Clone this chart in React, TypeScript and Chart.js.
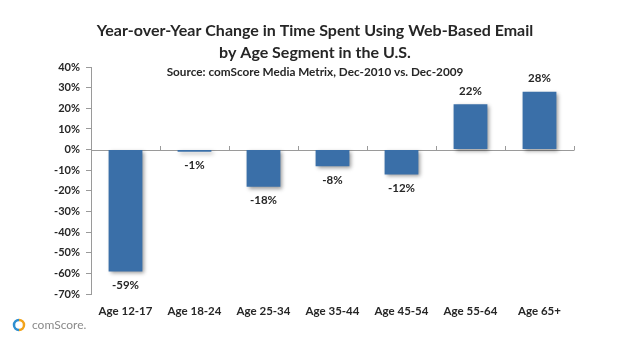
import React, { useEffect, useRef } from "react";
import { Chart, registerables } from "chart.js";

Chart.register(...registerables);

const categories = ["Age 12-17", "Age 18-24", "Age 25-34", "Age 35-44", "Age 45-54", "Age 55-64", "Age 65+"];
const changeValues = [-59, -1, -18, -8, -12, 22, 28];
const yMin = -70;
const yMax = 40;
const yStep = 10;
const titleLines = ["Year-over-Year Change in Time Spent Using Web-Based Email", "by Age Segment in the U.S."];
const subtitleText = "Source: comScore Media Metrix, Dec-2010 vs. Dec-2009";

const FONT = "Lato, 'Open Sans', 'DejaVu Sans', sans-serif";
const TEXT = "#262626";
const BAR = "#3A6FA8";

export default function App() {
  const ref = useRef<HTMLCanvasElement | null>(null);

  useEffect(() => {
    const canvas = ref.current;
    if (!canvas) return;

    const decor = {
      id: "decor",
      beforeDatasetsDraw(chart: any) {
        const ctx = chart.ctx;
        const ys = chart.scales.y;
        const y0 = ys.getPixelForValue(0);
        ctx.save();
        ctx.strokeStyle = "#9a9a9a";
        ctx.lineWidth = 1;
        ctx.beginPath();
        ctx.moveTo(chart.chartArea.left, Math.round(y0) + 0.5);
        ctx.lineTo(chart.chartArea.right, Math.round(y0) + 0.5);
        const n = categories.length;
        const w = (chart.chartArea.right - chart.chartArea.left) / n;
        for (let i = 1; i <= n; i++) {
          const x = Math.round(chart.chartArea.left + i * w) + 0.5;
          ctx.moveTo(x, Math.round(y0) + 0.5);
          ctx.lineTo(x, Math.round(y0) - 4);
        }
        ctx.stroke();
        ctx.restore();
        ctx.save();
        ctx.shadowColor = "rgba(0,0,0,0.4)";
        ctx.shadowBlur = 4;
        ctx.shadowOffsetX = 2;
        ctx.shadowOffsetY = 2;
      },
      afterDatasetsDraw(chart: any) {
        const ctx = chart.ctx;
        ctx.restore();
        const meta = chart.getDatasetMeta(0);
        ctx.save();
        ctx.fillStyle = TEXT;
        ctx.font = `bold 11.5px ${FONT}`;
        ctx.textAlign = "center";
        ctx.textBaseline = "middle";
        meta.data.forEach((el: any, i: number) => {
          const v = changeValues[i];
          const y = v < 0 ? el.y + 14 : el.y - 13;
          ctx.fillText(`${v}%`, el.x, y);
        });
        ctx.restore();

        // titles
        ctx.save();
        ctx.fillStyle = TEXT;
        ctx.textAlign = "center";
        ctx.textBaseline = "middle";
        ctx.font = `bold 16px ${FONT}`;
        ctx.fillText(titleLines[0], 315, 31);
        ctx.fillText(titleLines[1], 315, 53);
        ctx.font = `bold 11.75px ${FONT}`;
        ctx.fillText(subtitleText, 315, 72);
        ctx.restore();

        // logo
        ctx.save();
        ctx.lineWidth = 2.5;
        ctx.strokeStyle = "#2E8FD0";
        ctx.beginPath();
        ctx.arc(19, 325, 5, Math.PI * 0.5, Math.PI * 1.5);
        ctx.stroke();
        ctx.strokeStyle = "#F2A31B";
        ctx.beginPath();
        ctx.arc(19, 325, 5, Math.PI * 1.5, Math.PI * 2.5);
        ctx.stroke();
        ctx.fillStyle = "#8a8a8a";
        ctx.textBaseline = "middle";
        ctx.textAlign = "left";
        ctx.font = `12px ${FONT}`;
        ctx.fillText("comScore.", 32, 325);
        ctx.restore();
      },
    };

    const chart = new Chart(canvas, {
      type: "bar",
      data: {
        labels: categories,
        datasets: [
          {
            data: changeValues,
            backgroundColor: BAR,
            borderWidth: 0,
            barPercentage: 0.98,
            categoryPercentage: 0.5,
          },
        ],
      },
      options: {
        responsive: false,
        animation: false,
        devicePixelRatio: 1,
        layout: { padding: { left: 0, right: 48, top: 67, bottom: 26 } },
        plugins: { legend: { display: false }, tooltip: { enabled: false }, title: { display: false } },
        scales: {
          x: {
            grid: { display: false, drawTicks: false },
            border: { display: false },
            ticks: {
              color: TEXT,
              font: { family: FONT, size: 11.5, weight: "bold" },
              padding: 10,
              maxRotation: 0,
              autoSkip: false,
            },
          },
          y: {
            min: yMin,
            max: yMax,
            afterFit(scale: any) {
              scale.width = 91;
            },
            grid: { drawOnChartArea: false, tickLength: 5, color: "#9a9a9a" },
            border: { color: "#9a9a9a" },
            ticks: {
              stepSize: yStep,
              color: TEXT,
              padding: 6,
              font: { family: FONT, size: 11, weight: "bold" },
              callback: (v: any) => `${v}%`,
            },
          },
        },
      },
      plugins: [decor],
    });
    return () => chart.destroy();
  }, []);

  return (
    <div style={{ position: "fixed", left: 0, top: 0, width: 622, height: 354, background: "#fff" }}>
      <canvas ref={ref} width={622} height={354} />
    </div>
  );
}
